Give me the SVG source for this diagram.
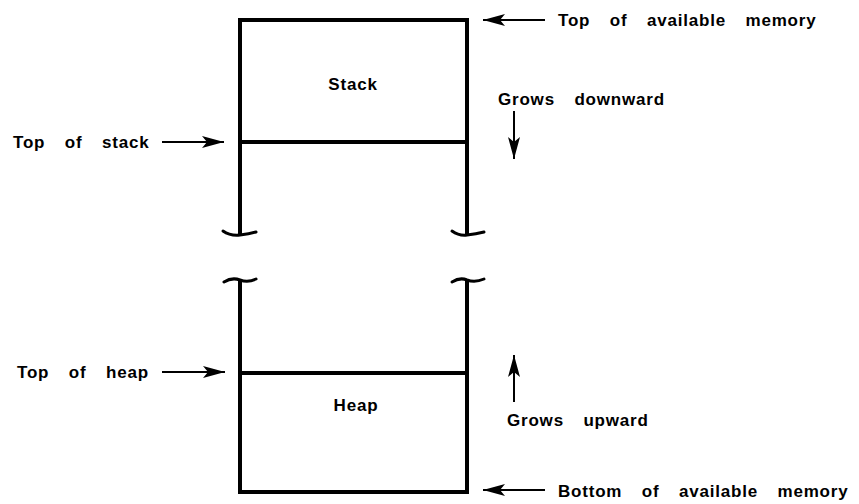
<svg xmlns="http://www.w3.org/2000/svg" width="859" height="504" viewBox="0 0 859 504">
<style>
.w{fill:none;stroke:#000;stroke-width:4;stroke-linecap:square;stroke-linejoin:miter}
.sq{fill:none;stroke:#000;stroke-width:3;stroke-linecap:round}
.c{fill:none;stroke:#000;stroke-width:2}
.t{font-family:"Liberation Sans",Arial,sans-serif;font-weight:bold;font-size:17px;fill:#000;word-spacing:14px;letter-spacing:0.8px}
</style>
<defs>
<marker id="ah" viewBox="0 0 22 12" refX="22" refY="6" markerWidth="22" markerHeight="12" markerUnits="userSpaceOnUse" orient="auto">
<path d="M0,0 L22,6 L0,12 L5,6 Z" fill="#000"/>
</marker>
</defs>
<rect width="859" height="504" fill="#fff"/>
<g id="stack">
<path class="w" d="M240,232 V20 H467 V232"/>
<line class="w" x1="240" y1="142" x2="467" y2="142"/>
<path class="sq" d="M223,231 Q230,236 240,235 Q249,234 256,232"/>
<path class="sq" d="M452,231 Q459,236 467,235 Q476,234 484,232"/>
<text class="t" x="353" y="90" text-anchor="middle">Stack</text>
</g>
<g id="heap">
<path class="w" d="M240,282 V492 H467 V282"/>
<line class="w" x1="240" y1="373" x2="467" y2="373"/>
<path class="sq" d="M224,282 Q232,277 240,280 Q248,283 256,279"/>
<path class="sq" d="M452,282 Q460,277 467,280 Q475,283 484,279"/>
<text class="t" x="356" y="411" text-anchor="middle">Heap</text>
</g>
<g id="connectors">
<line class="c" x1="545" y1="20" x2="483" y2="20" marker-end="url(#ah)"/>
<line class="c" x1="545" y1="490" x2="483" y2="490" marker-end="url(#ah)"/>
<line class="c" x1="162" y1="142" x2="224" y2="142" marker-end="url(#ah)"/>
<line class="c" x1="162" y1="372" x2="225" y2="372" marker-end="url(#ah)"/>
<line class="c" x1="514" y1="111" x2="514" y2="159" marker-end="url(#ah)"/>
<line class="c" x1="514" y1="402" x2="514" y2="355" marker-end="url(#ah)"/>
</g>
<g id="labels">
<text class="t" x="558" y="26">Top of available memory</text>
<text class="t" x="498" y="105">Grows downward</text>
<text class="t" x="13" y="148">Top of stack</text>
<text class="t" x="17" y="378">Top of heap</text>
<text class="t" x="507" y="426">Grows upward</text>
<text class="t" x="558" y="497">Bottom of available memory</text>
</g>
</svg>
